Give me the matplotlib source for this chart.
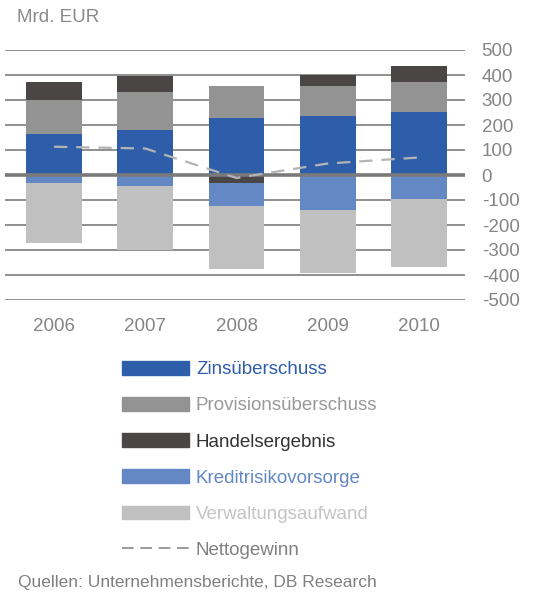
import matplotlib
matplotlib.use("Agg")
import matplotlib.pyplot as plt
import numpy as np
from matplotlib.patches import Patch
from matplotlib.lines import Line2D

plt.rcParams['font.family'] = ['Liberation Sans', 'DejaVu Sans']
plt.rcParams['axes.unicode_minus'] = False

years = ["2006", "2007", "2008", "2009", "2010"]
zins = [166, 182, 230, 236, 252]
provision = [136, 150, 126, 120, 120]
handel = [70, 66, -33, 46, 64]
kredit = [-33, -43, -89, -139, -97]
verwaltung = [-239, -256, -254, -253, -271]
netto = [113, 106, -12, 46, 70]
yticks = [500, 400, 300, 200, 100, 0, -100, -200, -300, -400, -500]

labels = ["Zinsüberschuss", "Provisionsüberschuss", "Handelsergebnis",
          "Kreditrisikovorsorge", "Verwaltungsaufwand", "Nettogewinn"]
c_zins, c_prov, c_hand, c_kred, c_verw, c_net = "#2E5EAA", "#939393", "#494645", "#6388C3", "#C0C0C0", "#B4B4B4"
txt_gray = "#858585"

fig = plt.figure(figsize=(5.41, 5.92), dpi=100)
ax = fig.add_axes([5/541, 1-300/592, 460/541, 250/592])

x = np.arange(len(years))
w = 0.61
zins_a = np.array(zins, float)
prov_a = np.array(provision, float)
hand_a = np.array(handel, float)
kred_a = np.array(kredit, float)
verw_a = np.array(verwaltung, float)

# positive stack
ax.bar(x, zins_a, w, bottom=0, color=c_zins, zorder=3)
ax.bar(x, prov_a, w, bottom=zins_a, color=c_prov, zorder=3)
hand_bottom = np.where(hand_a >= 0, zins_a + prov_a, 0)
hand_neg = hand_a < 0
ax.bar(x, hand_a, w, bottom=hand_bottom, color=c_hand, zorder=3)
# negative stack
neg_base = np.where(hand_neg, hand_a, 0)
ax.bar(x, kred_a, w, bottom=neg_base, color=c_kred, zorder=3)
ax.bar(x, verw_a, w, bottom=neg_base + kred_a, color=c_verw, zorder=3)

ax.plot(x, netto, color=c_net, lw=1.6, dashes=(6, 4), zorder=4)

ax.set_xlim(-0.537, 4.504)
ax.set_ylim(-500, 500)
ax.set_yticks(yticks)
ax.yaxis.tick_right()
for s in ax.spines.values():
    s.set_visible(False)
ax.tick_params(axis='y', length=0, pad=12, labelsize=13.5, labelcolor=txt_gray)
for lbl in ax.get_yticklabels():
    lbl.set_horizontalalignment('left')
ax.set_xticks(x)
ax.set_xticklabels(years)
ax.tick_params(axis='x', length=0, pad=13, labelsize=13.5, labelcolor=txt_gray)
for v in yticks:
    if v == 0:
        ax.axhline(v, color="#7a7a7a", lw=2.6, zorder=3.5)
    else:
        ax.axhline(v, color="#8f8f8f", lw=1.4, zorder=1)

fig.text(17/541, 1-18/592, "Mrd. EUR", fontsize=13.5, color="#8a8a8a", va='center', ha='left')
fig.text(18/541, 1-583/592, "Quellen: Unternehmensberichte, DB Research", fontsize=12.5, color="#808080", va='center', ha='left')

handles = [Patch(color=c_zins), Patch(color=c_prov), Patch(color=c_hand),
           Patch(color=c_kred), Patch(color=c_verw),
           Line2D([0], [0], color="#8a8a8a", lw=1.2, dashes=(7, 4))]
leg = fig.legend(handles, labels, loc='upper left', bbox_to_anchor=(105/541, 1-344/592),
                 frameon=False, fontsize=13.5, handlelength=3.6, handleheight=0.75,
                 handletextpad=0.35, labelspacing=1.0,
                 labelcolor=[c_zins, "#999999", "#333333", c_kred, "#C4C4C4", "#808080"])

fig.savefig("out.png", dpi=100)
